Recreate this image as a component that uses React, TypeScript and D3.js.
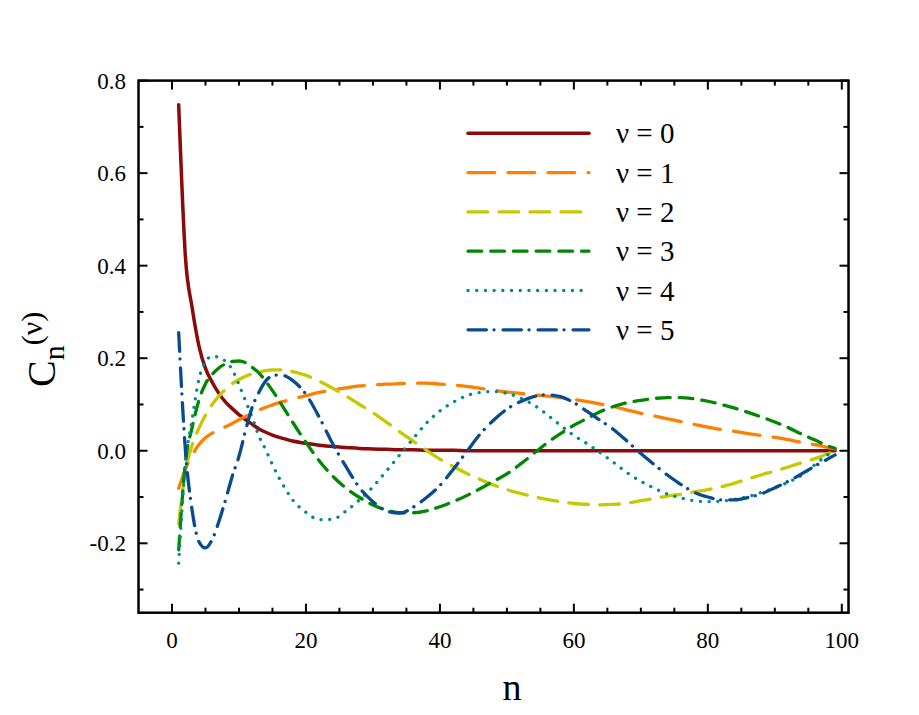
import React, { useEffect, useRef } from 'react';
import * as d3 from 'd3';

// Sample positions n (dense near the start where the curves move fast)
const nGrid = [
  1, 2, 3, 4, 5, 6, 7, 8, 9, 10, 11, 12, 13, 14, 15, 16, 17, 18,
  20, 22, 24, 26, 28, 30, 32, 34, 36, 38,
  40, 42, 44, 46, 48, 50, 52, 54, 56, 58,
  60, 62, 64, 66, 68, 70, 72, 74, 76, 78,
  80, 82, 84, 86, 88, 90, 92, 94, 96, 98,
  99,
];

// C_n(nu) for nu = 0..5
const cNu0 = [
  0.748, 0.42, 0.31, 0.228, 0.178, 0.148, 0.124, 0.105, 0.091, 0.078, 0.067, 0.057, 0.047, 0.04, 0.034, 0.029, 0.025, 0.021,
  0.016, 0.012, 0.009, 0.007, 0.005, 0.004, 0.003, 0.002, 0.002, 0.001,
  0.001, 0.001, 0, 0, 0, 0, 0, 0, 0, 0,
  0, 0, 0, 0, 0, 0, 0, 0, 0, 0,
  0, 0, 0, 0, 0, 0, 0, 0, 0, 0,
  0,
];
const cNu1 = [
  -0.081, -0.04, -0.01, 0.013, 0.028, 0.038, 0.045, 0.052, 0.059, 0.067, 0.074, 0.081, 0.088, 0.094, 0.099, 0.104, 0.108, 0.112,
  0.119, 0.126, 0.131, 0.136, 0.14, 0.142, 0.144, 0.145, 0.146, 0.146,
  0.144, 0.142, 0.139, 0.135, 0.131, 0.127, 0.124, 0.121, 0.118, 0.115,
  0.111, 0.106, 0.101, 0.095, 0.088, 0.081, 0.075, 0.069, 0.063, 0.057,
  0.051, 0.046, 0.042, 0.037, 0.033, 0.029, 0.024, 0.018, 0.013, 0.007,
  0.004,
];
const cNu2 = [
  -0.158, -0.045, 0.012, 0.048, 0.077, 0.1, 0.118, 0.133, 0.145, 0.154, 0.161, 0.166, 0.17, 0.173, 0.175, 0.175, 0.174, 0.171,
  0.163, 0.15, 0.135, 0.118, 0.1, 0.082, 0.062, 0.041, 0.021, 0.001,
  -0.018, -0.034, -0.049, -0.062, -0.074, -0.084, -0.092, -0.099, -0.105, -0.11,
  -0.114, -0.116, -0.117, -0.116, -0.113, -0.108, -0.103, -0.098, -0.094, -0.089,
  -0.084, -0.078, -0.07, -0.061, -0.052, -0.044, -0.035, -0.026, -0.017, -0.006,
  -0.001,
];
const cNu3 = [
  -0.214, -0.025, 0.05, 0.108, 0.145, 0.165, 0.179, 0.188, 0.193, 0.194, 0.19, 0.18, 0.168, 0.15, 0.13, 0.108, 0.085, 0.062,
  0.018, -0.022, -0.055, -0.081, -0.101, -0.117, -0.128, -0.134, -0.134, -0.13,
  -0.121, -0.11, -0.097, -0.082, -0.066, -0.05, -0.029, -0.006, 0.017, 0.037,
  0.055, 0.07, 0.085, 0.096, 0.104, 0.109, 0.113, 0.115, 0.115, 0.112,
  0.107, 0.1, 0.092, 0.083, 0.073, 0.062, 0.05, 0.036, 0.023, 0.01,
  0.005,
];
const cNu4 = [
  -0.243, -0.03, 0.067, 0.153, 0.193, 0.204, 0.202, 0.193, 0.175, 0.143, 0.107, 0.071, 0.031, 0.002, -0.03, -0.059, -0.084, -0.106,
  -0.133, -0.149, -0.148, -0.13, -0.106, -0.078, -0.044, -0.009, 0.026, 0.06,
  0.086, 0.105, 0.119, 0.126, 0.128, 0.124, 0.114, 0.099, 0.078, 0.055,
  0.033, 0.015, -0.005, -0.026, -0.048, -0.066, -0.081, -0.094, -0.102, -0.108,
  -0.11, -0.109, -0.105, -0.099, -0.09, -0.08, -0.068, -0.053, -0.03, -0.008,
  -0.001,
];
const cNu5 = [
  0.255, 0.002, -0.128, -0.196, -0.21, -0.192, -0.153, -0.106, -0.055, -0.012, 0.045, 0.095, 0.127, 0.151, 0.162, 0.164, 0.161, 0.152,
  0.122, 0.072, 0.015, -0.035, -0.08, -0.11, -0.13, -0.135, -0.122, -0.101,
  -0.075, -0.04, -0.002, 0.036, 0.066, 0.09, 0.106, 0.117, 0.121, 0.117,
  0.104, 0.085, 0.065, 0.045, 0.02, -0.006, -0.03, -0.053, -0.073, -0.09,
  -0.1, -0.106, -0.106, -0.101, -0.093, -0.08, -0.066, -0.05, -0.033, -0.017,
  -0.009,
];

const seriesValues = [cNu0, cNu1, cNu2, cNu3, cNu4, cNu5];
const seriesLabels = ['ν = 0', 'ν = 1', 'ν = 2', 'ν = 3', 'ν = 4', 'ν = 5'];
const seriesColors = ['#8b0a0a', '#ff8000', '#c8c800', '#008800', '#008b8b', '#0a4a8f'];
const seriesDashes = ['none', '26.7 13.3', '19.7 11.3', '13.7 9', '0.1 8.6', '18.4 7.6 0.1 8.9'];

const xMajorTicks = [0, 20, 40, 60, 80, 100];
const xMinorTicks = [5, 10, 15, 25, 30, 35, 45, 50, 55, 65, 70, 75, 85, 90, 95];
const yMajorTicks = [-0.2, 0, 0.2, 0.4, 0.6, 0.8];
const yMinorTicks = [-0.3, -0.1, 0.1, 0.3, 0.5, 0.7];

const WIDTH = 919;
const HEIGHT = 715;
const FONT = 'Liberation Serif, Times New Roman, serif';

const App: React.FC = () => {
  const ref = useRef<SVGSVGElement>(null);

  useEffect(() => {
    if (!ref.current) return;
    const svg = d3.select(ref.current);
    svg.selectAll('*').remove();

    const x = d3.scaleLinear().domain([-5, 101]).range([138.5, 848.5]);
    const y = d3.scaleLinear().domain([-0.35, 0.8]).range([612.7, 80.6]);
    const [x0, x1] = x.range();
    const [yB, yT] = y.range();

    // curves
    const line = d3
      .line<[number, number]>()
      .x((d) => x(d[0]))
      .y((d) => y(d[1]))
      .curve(d3.curveMonotoneX);

    seriesValues.forEach((vals, i) => {
      const pts = nGrid.map((n, j) => [n, vals[j]] as [number, number]);
      svg
        .append('path')
        .attr('d', line(pts)!)
        .attr('fill', 'none')
        .attr('stroke', seriesColors[i])
        .attr('stroke-width', i === 0 ? 3.5 : 3.3)
        .attr('stroke-dasharray', seriesDashes[i])
        .attr('stroke-linecap', 'round')
        .attr('stroke-linejoin', 'round');
    });

    // frame
    svg
      .append('rect')
      .attr('x', x0)
      .attr('y', yT)
      .attr('width', x1 - x0)
      .attr('height', yB - yT)
      .attr('fill', 'none')
      .attr('stroke', '#000')
      .attr('stroke-width', 2.5);

    // inward ticks on all four sides
    const tickG = svg.append('g').attr('stroke', '#000').attr('stroke-width', 2);
    const addXTick = (v: number, len: number) => {
      tickG.append('line').attr('x1', x(v)).attr('x2', x(v)).attr('y1', yB).attr('y2', yB - len);
      tickG.append('line').attr('x1', x(v)).attr('x2', x(v)).attr('y1', yT).attr('y2', yT + len);
    };
    const addYTick = (v: number, len: number) => {
      tickG.append('line').attr('x1', x0).attr('x2', x0 + len).attr('y1', y(v)).attr('y2', y(v));
      tickG.append('line').attr('x1', x1).attr('x2', x1 - len).attr('y1', y(v)).attr('y2', y(v));
    };
    xMajorTicks.forEach((v) => addXTick(v, 9));
    xMinorTicks.forEach((v) => addXTick(v, 5));
    yMajorTicks.forEach((v) => addYTick(v, 9));
    yMinorTicks.forEach((v) => addYTick(v, 5));

    // tick labels
    svg
      .append('g')
      .selectAll('text')
      .data(xMajorTicks)
      .join('text')
      .attr('x', (d) => x(d))
      .attr('y', 648)
      .attr('text-anchor', 'middle')
      .attr('font-family', FONT)
      .attr('font-size', 23)
      .text((d) => String(d));

    svg
      .append('g')
      .selectAll('text')
      .data(yMajorTicks)
      .join('text')
      .attr('x', 126)
      .attr('y', (d) => y(d))
      .attr('dy', '0.35em')
      .attr('text-anchor', 'end')
      .attr('font-family', FONT)
      .attr('font-size', 23)
      .text((d) => d.toFixed(1));

    // axis titles
    svg
      .append('text')
      .attr('x', 512)
      .attr('y', 700)
      .attr('text-anchor', 'middle')
      .attr('font-family', FONT)
      .attr('font-size', 38)
      .text('n');

    const yTitle = svg
      .append('text')
      .attr('transform', 'translate(55,387) rotate(-90)')
      .attr('text-anchor', 'start')
      .attr('font-family', FONT)
      .attr('font-size', 40);
    yTitle.append('tspan').text('C');
    yTitle.append('tspan').attr('dy', 9).attr('font-size', 30).text('n');
    yTitle.append('tspan').attr('dy', -22).attr('font-size', 30).text('(ν)');

    // legend
    const legend = svg.append('g');
    seriesLabels.forEach((label, i) => {
      const ly = 133.3 + i * 39.3;
      legend
        .append('line')
        .attr('x1', 468)
        .attr('x2', 589)
        .attr('y1', ly)
        .attr('y2', ly)
        .attr('stroke', seriesColors[i])
        .attr('stroke-width', i === 0 ? 3.5 : 3.3)
        .attr('stroke-dasharray', seriesDashes[i])
        .attr('stroke-linecap', 'round');
      legend
        .append('text')
        .attr('x', 616)
        .attr('y', ly)
        .attr('dy', '0.35em')
        .attr('font-family', FONT)
        .attr('font-size', 29)
        .text(label);
    });
  }, []);

  return (
    <div style={{ position: 'absolute', left: 0, top: 0 }}>
      <svg ref={ref} width={WIDTH} height={HEIGHT} style={{ display: 'block', background: '#fff' }} />
    </div>
  );
};

export default App;
